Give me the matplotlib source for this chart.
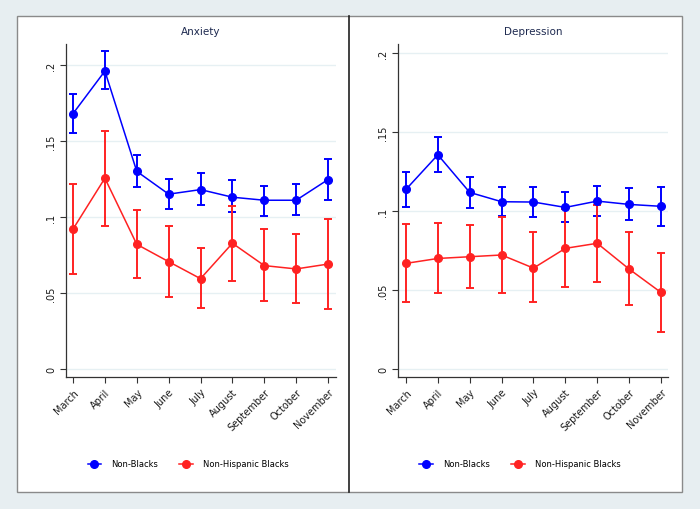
import matplotlib
matplotlib.use("Agg")
import matplotlib.pyplot as plt
from matplotlib.lines import Line2D
from matplotlib.patches import Rectangle

months = ["March", "April", "May", "June", "July", "August", "September", "October", "November"]

# Anxiety
anx_nb = [0.168, 0.196, 0.130, 0.115, 0.118, 0.113, 0.111, 0.111, 0.1246]
anx_nb_lo = [0.155, 0.184, 0.1195, 0.105, 0.108, 0.1035, 0.1007, 0.101, 0.111]
anx_nb_hi = [0.181, 0.209, 0.141, 0.125, 0.129, 0.124, 0.1206, 0.122, 0.138]
anx_b = [0.092, 0.1255, 0.082, 0.0706, 0.0594, 0.0827, 0.068, 0.0658, 0.069]
anx_b_lo = [0.0623, 0.0943, 0.0597, 0.0472, 0.040, 0.0577, 0.0447, 0.0434, 0.0397]
anx_b_hi = [0.122, 0.1566, 0.1046, 0.0943, 0.0796, 0.1075, 0.0919, 0.0888, 0.0989]

# Depression
dep_nb = [0.1137, 0.1356, 0.1118, 0.1059, 0.1057, 0.1023, 0.1063, 0.1042, 0.103]
dep_nb_lo = [0.1025, 0.1249, 0.1021, 0.0966, 0.096, 0.093, 0.0968, 0.0945, 0.0907]
dep_nb_hi = [0.1249, 0.1468, 0.1213, 0.1152, 0.115, 0.112, 0.116, 0.1144, 0.1154]
dep_b = [0.0669, 0.070, 0.0711, 0.0722, 0.0639, 0.0764, 0.0796, 0.0633, 0.0485]
dep_b_lo = [0.0422, 0.0479, 0.0513, 0.0481, 0.0422, 0.0517, 0.0553, 0.0405, 0.0236]
dep_b_hi = [0.0918, 0.0926, 0.0912, 0.0964, 0.0865, 0.101, 0.1038, 0.0865, 0.0732]

yticks = [0, 0.05, 0.1, 0.15, 0.2]
ytick_labels = ["0", ".05", ".1", ".15", ".2"]
series_labels = ["Non-Blacks", "Non-Hispanic Blacks"]

BLUE = "#0000ff"
RED = "#ff2222"
TXT = "#1a1a1a"

fig = plt.figure(figsize=(7, 5.1), dpi=100)
fig.patch.set_facecolor("#e7eef1")

W, H = 700, 510
def fx(px):
    return px / W
def fy(py):
    return 1 - py / H

fig.patches.append(Rectangle((fx(17), fy(493)), fx(682) - fx(17), fy(17) - fy(493),
                             transform=fig.transFigure, facecolor="white",
                             edgecolor="#8a8a8a", linewidth=1.0, zorder=-10))
fig.lines.append(Line2D([fx(349), fx(349)], [fy(493), fy(17)], transform=fig.transFigure,
                        color="#202020", linewidth=1.2, zorder=-5))


def panel(rect, title, nb, nb_lo, nb_hi, b, b_lo, b_hi, ylim, xlim, legend_x):
    ax = fig.add_axes(rect)
    ax.set_facecolor("none")
    x = list(range(len(months)))
    for vals, lo, hi, col in [(nb, nb_lo, nb_hi, BLUE), (b, b_lo, b_hi, RED)]:
        yerr = [[v - l for v, l in zip(vals, lo)], [h - v for v, h in zip(vals, hi)]]
        ax.errorbar(x, vals, yerr=yerr, color=col, marker="o", markersize=5.5,
                    linewidth=1.1, elinewidth=1.4, capsize=3, capthick=1.4, zorder=3)
    ax.set_ylim(*ylim)
    ax.set_xlim(*xlim)
    ax.set_yticks(yticks)
    ax.set_yticklabels(ytick_labels, rotation=90, va="center", fontsize=7, color=TXT)
    ax.set_xticks(x)
    ax.set_xticklabels(months, rotation=45, ha="right", rotation_mode="anchor",
                       fontsize=7, color=TXT)
    ax.tick_params(axis="both", length=4, width=0.8, color="#333333", pad=3)
    for s in ["top", "right"]:
        ax.spines[s].set_visible(False)
    for s in ["left", "bottom"]:
        ax.spines[s].set_color("#333333")
        ax.spines[s].set_linewidth(0.9)
    ax.grid(axis="y", color="#e6f0f3", linewidth=1.0)
    ax.set_axisbelow(True)
    ax.set_title(title, fontsize=7.5, color="#1e2a50", pad=7)
    handles = [Line2D([], [], color=BLUE, marker="o", markersize=5.5, linewidth=1.1),
               Line2D([], [], color=RED, marker="o", markersize=5.5, linewidth=1.1)]
    fig.legend(handles, series_labels, loc="center left",
               bbox_to_anchor=(legend_x, fy(465)), ncol=2, frameon=False,
               fontsize=6, handlelength=1.6, columnspacing=2.6, handletextpad=1.2)
    return ax

panel([fx(66), fy(378), fx(336) - fx(66), fy(45) - fy(378)], "Anxiety",
      anx_nb, anx_nb_lo, anx_nb_hi, anx_b, anx_b_lo, anx_b_hi,
      (-0.0053, 0.2138), (-0.22, 8.25), fx(80))
panel([fx(398), fy(378), fx(668) - fx(398), fy(45) - fy(378)], "Depression",
      dep_nb, dep_nb_lo, dep_nb_hi, dep_b, dep_b_lo, dep_b_hi,
      (-0.005, 0.2057), (-0.25, 8.22), fx(412))

fig.savefig("out.png", dpi=100, facecolor=fig.get_facecolor())
